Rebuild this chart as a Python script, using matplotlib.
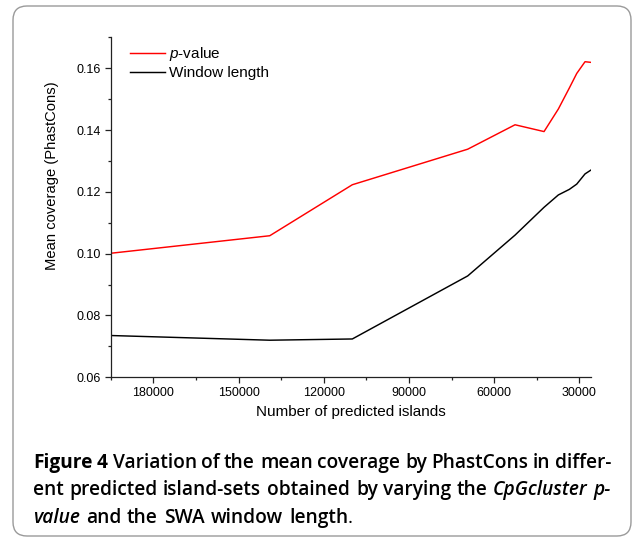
import matplotlib
matplotlib.use('Agg')
import matplotlib.pyplot as plt
from matplotlib.patches import FancyBboxPatch
from matplotlib.ticker import MultipleLocator, FixedLocator

# ---------------- data ----------------
n_islands = [194300, 139000, 109930, 69300, 52640, 42430, 37390, 33520, 30920, 28000, 26000]
pvalue_cov = [0.1002, 0.1058, 0.1223, 0.1338, 0.1417, 0.1395, 0.1468, 0.1536, 0.1583, 0.1621, 0.1619]
window_cov = [0.0735, 0.0720, 0.0724, 0.0928, 0.1060, 0.1150, 0.1190, 0.1208, 0.1225, 0.1258, 0.1270]
x_ticks = [180000, 150000, 120000, 90000, 60000, 30000]
y_ticks = [0.06, 0.08, 0.10, 0.12, 0.14, 0.16]
series_labels = ['$p$-value', 'Window length']
x_label = 'Number of predicted islands'
y_label = 'Mean coverage (PhastCons)'

W, H = 633, 539
plt.rcParams['font.family'] = ['Liberation Sans', 'DejaVu Sans']
plt.rcParams['mathtext.fontset'] = 'custom'
plt.rcParams['mathtext.it'] = 'Liberation Sans:italic'
plt.rcParams['mathtext.rm'] = 'Liberation Sans'

fig = plt.figure(figsize=(W / 100, H / 100), dpi=100)

# rounded border
border = FancyBboxPatch((13, 3), 618, 530, boxstyle='round,pad=0,rounding_size=14',
                        transform=None, facecolor='none', edgecolor='#9a9a9a', linewidth=1.0)
fig.patches.append(border)

ax_l, ax_r, ax_t, ax_b = 110.7, 590.7, 37.3, 377.3
ax = fig.add_axes([ax_l / W, 1 - ax_b / H, (ax_r - ax_l) / W, (ax_b - ax_t) / H])

ax.plot(n_islands, pvalue_cov, color='#ff0000', lw=1.05, label=series_labels[0])
ax.plot(n_islands, window_cov, color='#000000', lw=1.05, label=series_labels[1])

ax.set_xlim(195000, 26000)
ax.set_ylim(0.06, 0.17)
ax.xaxis.set_major_locator(FixedLocator(x_ticks))
ax.xaxis.set_minor_locator(MultipleLocator(15000))
ax.yaxis.set_major_locator(FixedLocator(y_ticks))
ax.yaxis.set_minor_locator(MultipleLocator(0.01))
ax.set_xticklabels([str(v) for v in x_ticks])
ax.set_yticklabels(['%.2f' % v for v in y_ticks])

for s in ['top', 'right']:
    ax.spines[s].set_visible(False)
for s in ['left', 'bottom']:
    ax.spines[s].set_linewidth(0.9)
    ax.spines[s].set_color('#222222')
ax.tick_params(which='major', direction='out', length=4, width=0.9, labelsize=9, pad=3,
               color='#222222')
ax.tick_params(which='minor', direction='out', length=2.3, width=0.9, color='#222222')

fig.text(350.7 / W, 1 - 412 / H, x_label, ha='center', va='center', fontsize=11)
fig.text(51.7 / W, 1 - 176 / H, y_label, ha='center', va='center', rotation=90, fontsize=10.6)

ax.legend(loc='upper left', bbox_to_anchor=(130 / W, 1 - 45 / H), bbox_transform=fig.transFigure,
          frameon=False, fontsize=11, handlelength=2.3, handletextpad=0.25, borderpad=0,
          borderaxespad=0, labelspacing=0.2)

# ---------------- caption ----------------
cap_family = ['Open Sans', 'DejaVu Sans']
cap_size = 13.8
renderer = fig.canvas.get_renderer()

lines = [
    [("Figure", 'normal', 'bold'), ("4", 'normal', 'bold'), ("Variation", 'normal', 'semibold'),
     ("of", 'normal', 'semibold'), ("the", 'normal', 'semibold'), ("mean", 'normal', 'semibold'),
     ("coverage", 'normal', 'semibold'), ("by", 'normal', 'semibold'), ("PhastCons", 'normal', 'semibold'),
     ("in", 'normal', 'semibold'), ("differ-", 'normal', 'semibold')],
    [("ent", 'normal', 'semibold'), ("predicted", 'normal', 'semibold'), ("island-sets", 'normal', 'semibold'),
     ("obtained", 'normal', 'semibold'), ("by", 'normal', 'semibold'), ("varying", 'normal', 'semibold'),
     ("the", 'normal', 'semibold'), ("CpGcluster", 'italic', 'semibold'), ("p-", 'italic', 'semibold')],
    [("value", 'italic', 'semibold'), ("and", 'normal', 'semibold'), ("the", 'normal', 'semibold'),
     ("SWA", 'normal', 'semibold'), ("window", 'normal', 'semibold'), ("length", 'normal', 'semibold')],
]
baselines = [468, 495, 523]
justify = [True, True, False]
x_left, x_right = 33, 611

def mk(word, style, weight):
    return fig.text(0, 0, word, fontsize=cap_size, family=cap_family, style=style,
                    weight=weight, va='baseline', ha='left', color='black')

t1 = mk("a a", 'normal', 'semibold'); t2 = mk("aa", 'normal', 'semibold')
space_w = t1.get_window_extent(renderer).width - t2.get_window_extent(renderer).width
t1.remove(); t2.remove()

for words, yb, just in zip(lines, baselines, justify):
    texts = [mk(w, st, wt) for (w, st, wt) in words]
    widths = [t.get_window_extent(renderer).width for t in texts]
    if just:
        gap = (x_right - x_left - sum(widths)) / (len(words) - 1)
    else:
        gap = space_w * 1.2
    x = x_left
    for t, w in zip(texts, widths):
        t.set_position((round(x) / W, (H - yb) / H))
        x += w + gap
    if not just:
        dot = mk(".", 'normal', 'normal')
        dot.set_position((round(x - gap) / W, (H - yb) / H))

fig.savefig('out.png', dpi=100)
